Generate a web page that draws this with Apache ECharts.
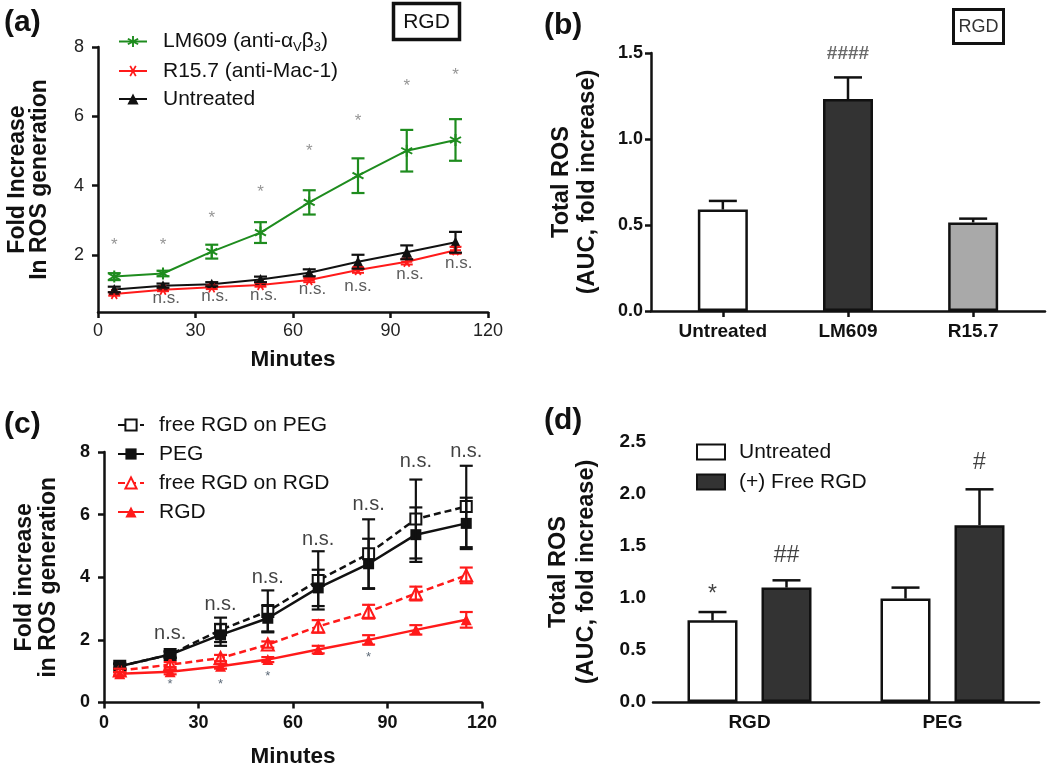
<!DOCTYPE html>
<html><head><meta charset="utf-8">
<script src="https://cdn.jsdelivr.net/npm/echarts@6/dist/echarts.min.js"></script>
<style>html,body{margin:0;padding:0;background:#fff}#c{width:1050px;height:770px}</style>
</head><body><div id="c"></div>
<script>
// ---------- Panel (a) ----------
const minutesA = [5, 20, 35, 50, 65, 80, 95, 110];
const lm609 = [1.38, 1.47, 2.1, 2.65, 3.52, 4.29, 5.01, 5.32];
const lm609Err = [0.1, 0.08, 0.2, 0.3, 0.35, 0.5, 0.6, 0.6];
const r157 = [0.88, 1.0, 1.07, 1.14, 1.28, 1.57, 1.81, 2.14];
const r157Err = [0.05, 0.04, 0.05, 0.05, 0.06, 0.08, 0.08, 0.1];
const untreatedA = [1.01, 1.12, 1.16, 1.3, 1.49, 1.81, 2.08, 2.37];
const untreatedAErr = [0.08, 0.06, 0.06, 0.08, 0.1, 0.2, 0.2, 0.3];
const starAY = [2.29, 2.29, 3.06, 3.8, 4.98, 5.87, 6.88, 7.19];
const nsAX = [21, 36, 51, 66, 80, 96, 111];
const nsAY = [0.76, 0.8, 0.85, 1.0, 1.1, 1.45, 1.75];
const yTicksA = [2, 4, 6, 8];

// ---------- Panel (b) ----------
const catB = ['Untreated', 'LM609', 'R15.7'];
const posB = [0, 1, 2];
const valB = [0.59, 1.232, 0.515];
const errB = [0.05, 0.126, 0.022];
const fillB = ['#ffffff', '#333333', '#a9a9a9'];
const annBText = ['####'];
const annBX = [1];
const annBY = [1.494];

// ---------- Panel (c) ----------
const minutesC = [5, 21, 37, 52, 68, 84, 99, 115];
const freePeg = [1.16, 1.53, 2.32, 2.91, 3.9, 4.75, 5.86, 6.26];
const freePegErr = [0.08, 0.1, 0.39, 0.67, 0.93, 1.1, 1.26, 1.3];
const peg = [1.16, 1.53, 2.16, 2.69, 3.66, 4.43, 5.36, 5.72];
const pegErr = [0.08, 0.1, 0.35, 0.42, 0.58, 0.8, 0.87, 0.82];
const freeRgd = [1.02, 1.21, 1.42, 1.85, 2.43, 2.9, 3.48, 4.06];
const freeRgdErr = [0.06, 0.08, 0.1, 0.1, 0.2, 0.22, 0.22, 0.25];
const rgd = [0.92, 0.98, 1.16, 1.37, 1.69, 2.0, 2.32, 2.64];
const rgdErr = [0.05, 0.08, 0.08, 0.08, 0.12, 0.15, 0.15, 0.25];
const starCX = [21, 37, 52, 84];
const starCY = [0.58, 0.58, 0.84, 1.45];
const nsCX = [21, 37, 52, 68, 84, 99, 115];
const nsCY = [2.22, 3.13, 4.0, 5.22, 6.33, 7.7, 8.02];

// ---------- Panel (d) ----------
const catD = ['RGD', 'PEG'];
const untreatedD = [0.785, 0.994];
const untreatedDErr = [0.08, 0.106];
const freeD = [1.1, 1.7];
const freeDErr = [0.07, 0.345];
const annDText = ['*', '##', '#'];
const annDCat = [0, 0, 1];
const annDSide = [-1, 1, 1];
const annDY = [1.03, 1.41, 2.3];

// ---------- drawing ----------
const FONT = '"Liberation Sans", Arial, Helvetica, sans-serif';
const INK = '#111111';
const GREEN = '#1e8c1e';
const RED = '#ff1a1a';
const ASTER = 'path://M4.2 0L5.8 0L5.8 10L4.2 10ZM0.27 3.19L1.07 1.81L9.73 6.81L8.93 8.19ZM8.93 1.81L9.73 3.19L1.07 8.19L0.27 6.81Z';
const BAR_W = 50;
const BAR_GAP = 0.48;
const GROUP_DX = BAR_W * (1 + BAR_GAP) / 2;

const nameLM = 'LM609 (anti-αVβ3)';
const nameR = 'R15.7 (anti-Mac-1)';

const zip = (xs, ys) => xs.map((x, i) => [x, ys[i]]);

function lineS(name, gi, xs, ys, color, symbol, size, extra) {
  return Object.assign({
    type: 'line', name, xAxisIndex: gi, yAxisIndex: gi, data: zip(xs, ys),
    symbol, symbolSize: size, color,
    lineStyle: { color, width: 2 },
    itemStyle: { color },
    z: 3
  }, extra || {});
}
function errS(gi, xs, ys, es, color, cap, lw, oneSided, dx) {
  return {
    type: 'custom', xAxisIndex: gi, yAxisIndex: gi, silent: true, z: 4,
    data: xs.map((x, i) => [x, ys[i], es[i]]), encode: { x: 0, y: 1 },
    renderItem(params, api) {
      const x = api.value(0), y = api.value(1), e = api.value(2);
      const t = api.coord([x, y + e]);
      const b = api.coord([x, oneSided ? y : y - e]);
      const cx = t[0] + (dx || 0);
      const style = { stroke: color, lineWidth: lw, fill: null };
      const ch = [
        { type: 'line', shape: { x1: cx, y1: t[1], x2: cx, y2: b[1] }, style },
        { type: 'line', shape: { x1: cx - cap / 2, y1: t[1], x2: cx + cap / 2, y2: t[1] }, style }
      ];
      if (!oneSided) ch.push({ type: 'line', shape: { x1: cx - cap / 2, y1: b[1], x2: cx + cap / 2, y2: b[1] }, style });
      return { type: 'group', children: ch };
    }
  };
}
function annS(gi, xs, ys, texts, font, color, weight, dxs) {
  return {
    type: 'scatter', xAxisIndex: gi, yAxisIndex: gi, symbolSize: 1, clip: false, silent: true, z: 6,
    itemStyle: { color: 'rgba(0,0,0,0)' },
    label: { show: true, position: 'inside', fontSize: font, color, fontWeight: weight || 'normal', fontFamily: FONT },
    data: xs.map((x, i) => ({
      value: [x, ys[i]],
      label: { formatter: Array.isArray(texts) ? texts[i] : texts, offset: [dxs ? dxs[i] : 0, 0] }
    }))
  };
}
const axLine = { onZero: false, lineStyle: { color: INK, width: 2.5 } };
const axTick = { length: 6, lineStyle: { color: INK, width: 2.5 } };
const nameStyle = (s, lh) => ({ fontSize: s, fontWeight: 'bold', color: INK, fontFamily: FONT, lineHeight: lh || s + 2 });

const chart = echarts.init(document.getElementById('c'));
const option = {
  animation: false,
  textStyle: { fontFamily: FONT },
  grid: [
    { left: 98, top: 47, width: 390, height: 265 },
    { left: 651, top: 53, width: 394, height: 258 },
    { left: 104, top: 452, width: 378, height: 253 },
    { left: 653, top: 442, width: 386, height: 260 }
  ],
  xAxis: [
    { gridIndex: 0, type: 'value', min: 0, max: 120, interval: 30, axisLine: axLine, axisTick: axTick,
      axisLabel: { margin: 10, fontSize: 18, color: '#222' }, splitLine: { show: false },
      name: 'Minutes', nameLocation: 'middle', nameGap: 36, nameTextStyle: nameStyle(22.5) },
    { gridIndex: 1, type: 'value', min: -0.574, max: 2.574, axisLine: axLine,
      axisTick: Object.assign({ customValues: posB }, axTick),
      axisLabel: { customValues: posB, formatter: v => catB[Math.round(v)], margin: 11, fontSize: 19, fontWeight: 'bold', color: INK },
      splitLine: { show: false } },
    { gridIndex: 2, type: 'value', min: 0, max: 120, interval: 30, axisLine: axLine, axisTick: axTick,
      axisLabel: { margin: 12, fontSize: 18, fontWeight: 'bold', color: INK }, splitLine: { show: false },
      name: 'Minutes', nameLocation: 'middle', nameGap: 42, nameTextStyle: nameStyle(22.5) },
    { gridIndex: 3, type: 'category', data: catD, axisLine: axLine,
      axisTick: Object.assign({ alignWithLabel: true }, axTick),
      axisLabel: { margin: 11, fontSize: 19, fontWeight: 'bold', color: INK }, splitLine: { show: false } }
  ],
  yAxis: [
    { gridIndex: 0, type: 'value', min: 0.36, max: 8, axisLine: axLine,
      axisTick: Object.assign({ customValues: yTicksA }, axTick),
      axisLabel: { customValues: yTicksA, margin: 14, fontSize: 18, color: '#222' }, splitLine: { show: false },
      name: 'Fold Increase\nIn ROS generation', nameLocation: 'middle', nameRotate: 90, nameGap: 47, nameTextStyle: nameStyle(23, 22) },
    { gridIndex: 1, type: 'value', min: 0, max: 1.5, interval: 0.5, axisLine: axLine, axisTick: axTick,
      axisLabel: { formatter: v => v.toFixed(1), margin: 8, fontSize: 18, fontWeight: 'bold', color: INK }, splitLine: { show: false },
      name: 'Total ROS\n(AUC, fold increase)', nameLocation: 'middle', nameRotate: 90, nameGap: 50, nameTextStyle: nameStyle(23.5, 26) },
    { gridIndex: 2, type: 'value', min: 0, max: 8, interval: 2, axisLine: axLine, axisTick: axTick,
      axisLabel: { margin: 14, fontSize: 18, fontWeight: 'bold', color: INK }, splitLine: { show: false },
      name: 'Fold increase\nin ROS generation', nameLocation: 'middle', nameRotate: 90, nameGap: 43, nameTextStyle: nameStyle(23, 24) },
    { gridIndex: 3, type: 'value', min: 0, max: 2.5, interval: 0.5, axisLine: axLine, axisTick: axTick,
      axisLabel: { formatter: v => v.toFixed(1), margin: 7, fontSize: 19, fontWeight: 'bold', color: INK }, splitLine: { show: false },
      name: 'Total ROS\n(AUC, fold increase)', nameLocation: 'middle', nameRotate: 90, nameGap: 52, nameTextStyle: nameStyle(23.5, 28) }
  ],
  legend: [
    { left: 118, top: 31, padding: 0, orient: 'vertical', itemWidth: 28, itemHeight: 14, itemGap: 7, selectedMode: false,
      data: [nameLM, nameR, 'Untreated'],
      formatter: n => n === nameLM ? '{n|LM609 (anti-α}{s|V}{n|β}{s|3}{n|)}' : '{n|' + n + '}',
      textStyle: { color: INK, fontSize: 21, padding: [0, 0, 0, 11],
        rich: { n: { fontSize: 21, lineHeight: 24, color: INK, fontFamily: FONT },
                s: { fontSize: 13, lineHeight: 13, verticalAlign: 'bottom', color: INK, fontFamily: FONT } } } },
    { left: 117, top: 413, padding: 0, orient: 'vertical', itemWidth: 26, itemHeight: 14, itemGap: 5, selectedMode: false,
      data: ['free RGD on PEG', 'PEG', 'free RGD on RGD', 'RGD'],
      textStyle: { color: INK, fontSize: 21, lineHeight: 24, padding: [0, 0, 0, 10] } },
    { left: 696, top: 440, padding: 0, orient: 'vertical', itemWidth: 28, itemHeight: 15, itemGap: 6, icon: 'rect', selectedMode: false,
      data: ['Untreated ', '(+) Free RGD'],
      itemStyle: { borderColor: INK, borderWidth: 2 },
      textStyle: { color: INK, fontSize: 21, lineHeight: 24, padding: [0, 0, 0, 9] } }
  ],
  series: [
    // (a)
    lineS(nameR, 0, minutesA, r157, RED, ASTER, 11, { symbolRotate: 90 }),
    errS(0, minutesA, r157, r157Err, RED, 12, 2),
    lineS('Untreated', 0, minutesA, untreatedA, INK, 'triangle', 11),
    errS(0, minutesA, untreatedA, untreatedAErr, INK, 13, 2.2),
    lineS(nameLM, 0, minutesA, lm609, GREEN, ASTER, 12),
    errS(0, minutesA, lm609, lm609Err, GREEN, 13, 2.2),
    annS(0, minutesA, starAY, '*', 17, '#7a7a7a'),
    annS(0, nsAX, nsAY, 'n.s.', 17, '#333'),
    // (b)
    { type: 'bar', xAxisIndex: 1, yAxisIndex: 1, barWidth: BAR_W, z: 2,
      data: posB.map((p, i) => ({ value: [p, valB[i]], itemStyle: { color: fillB[i] } })),
      itemStyle: { borderColor: INK, borderWidth: 2.5 } },
    errS(1, posB, valB, errB, INK, 28, 2.5, true),
    annS(1, annBX, annBY, annBText, 19, '#444', 'bold'),
    // (c)
    lineS('free RGD on PEG', 2, minutesC, freePeg, INK, 'rect', 11,
      { lineStyle: { color: INK, width: 2.5, type: [7, 4] }, itemStyle: { color: '#fff', borderColor: INK, borderWidth: 2 } }),
    errS(2, minutesC, freePeg, freePegErr, INK, 13, 2.2),
    lineS('PEG', 2, minutesC, peg, INK, 'rect', 11, { lineStyle: { color: INK, width: 2.5 } }),
    errS(2, minutesC, peg, pegErr, INK, 13, 2.2),
    lineS('free RGD on RGD', 2, minutesC, freeRgd, RED, 'triangle', 12,
      { lineStyle: { color: RED, width: 2.5, type: [7, 4] }, itemStyle: { color: '#fff', borderColor: RED, borderWidth: 2 } }),
    errS(2, minutesC, freeRgd, freeRgdErr, RED, 13, 2.2),
    lineS('RGD', 2, minutesC, rgd, RED, 'triangle', 11, { lineStyle: { color: RED, width: 2.5 } }),
    errS(2, minutesC, rgd, rgdErr, RED, 13, 2.2),
    annS(2, starCX, starCY, '*', 13, '#334455'),
    annS(2, nsCX, nsCY, 'n.s.', 20, INK),
    // (d)
    { type: 'bar', name: 'Untreated ', xAxisIndex: 3, yAxisIndex: 3, barWidth: BAR_W, barGap: (BAR_GAP * 100) + '%', z: 2,
      data: untreatedD, itemStyle: { color: '#ffffff', borderColor: INK, borderWidth: 2.5 } },
    { type: 'bar', name: '(+) Free RGD', xAxisIndex: 3, yAxisIndex: 3, barWidth: BAR_W, barGap: (BAR_GAP * 100) + '%', z: 2,
      data: freeD, itemStyle: { color: '#333333', borderColor: INK, borderWidth: 2.5 } },
    errS(3, [0, 1], untreatedD, untreatedDErr, INK, 28, 2.5, true, -GROUP_DX),
    errS(3, [0, 1], freeD, freeDErr, INK, 28, 2.5, true, GROUP_DX),
    annS(3, annDCat, annDY, annDText, 23, INK, 'normal', annDSide.map(s => s * GROUP_DX))
  ],
  graphic: [
    { type: 'text', left: 4, top: 8, style: { text: '(a)', font: 'bold 30px ' + FONT, fill: INK } },
    { type: 'text', left: 544, top: 11, style: { text: '(b)', font: 'bold 30px ' + FONT, fill: INK } },
    { type: 'text', left: 4, top: 410, style: { text: '(c)', font: 'bold 30px ' + FONT, fill: INK } },
    { type: 'text', left: 544, top: 406, style: { text: '(d)', font: 'bold 30px ' + FONT, fill: INK } },
    { type: 'rect', shape: { x: 393.5, y: 3.5, width: 66, height: 36 }, style: { fill: '#fff', stroke: INK, lineWidth: 3.5 } },
    { type: 'text', x: 426.5, y: 22, style: { text: 'RGD', font: '21px ' + FONT, fill: INK, align: 'center', verticalAlign: 'middle' } },
    { type: 'rect', shape: { x: 953.5, y: 9.5, width: 50, height: 34 }, style: { fill: '#fff', stroke: INK, lineWidth: 3 } },
    { type: 'text', x: 978.5, y: 27, style: { text: 'RGD', font: '18px ' + FONT, fill: '#333', align: 'center', verticalAlign: 'middle' } }
  ]
};
chart.setOption(option);
</script>
</body></html>
